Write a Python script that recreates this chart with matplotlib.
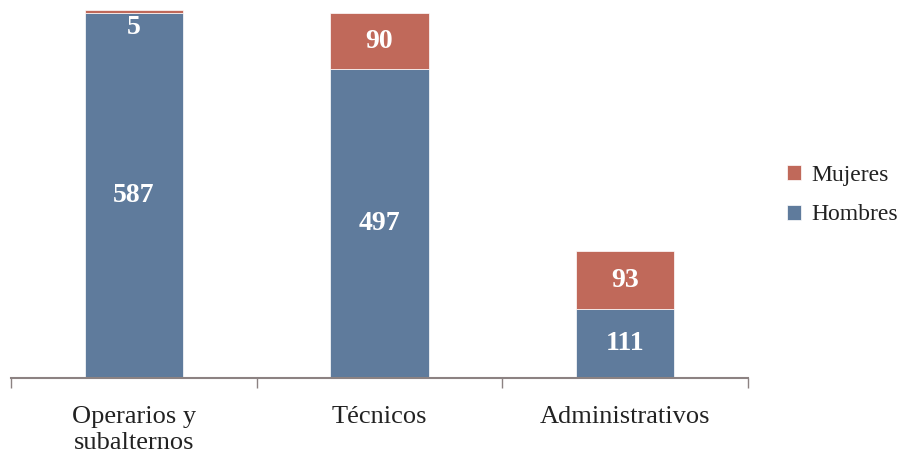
import matplotlib.pyplot as plt
import numpy as np

plt.rcParams['font.family'] = ['Liberation Serif', 'DejaVu Serif']

categorias = ["Operarios y\nsubalternos", "Técnicos", "Administrativos"]
hombres = [587, 497, 111]
mujeres = [5, 90, 93]

col_h = '#5F7B9C'
col_m = '#C0695A'

fig = plt.figure(figsize=(9.02, 4.54), dpi=100)
ax = fig.add_axes([11 / 902, 76 / 454, 737 / 902, 378 / 454])

x = np.arange(len(categorias))
w = 0.4
b1 = ax.bar(x, hombres, width=w, color=col_h, label="Hombres", edgecolor='white', linewidth=0.5)
b2 = ax.bar(x, mujeres, width=w, bottom=hombres, color=col_m, label="Mujeres", edgecolor='white', linewidth=0.5)

for i in range(len(x)):
    ax.text(x[i], hombres[i] / 2, str(hombres[i]), ha='center', va='center',
            color='white', fontsize=20, fontweight='bold')
    if mujeres[i] > 20:
        ym = hombres[i] + mujeres[i] / 2
        ax.text(x[i], ym, str(mujeres[i]), ha='center', va='center',
                color='white', fontsize=20, fontweight='bold')
    else:
        ax.text(x[i], hombres[i] - 3, str(mujeres[i]), ha='center', va='top',
                color='white', fontsize=20, fontweight='bold')

ax.set_xlim(-0.5, 2.5)
ax.set_ylim(0, 608)
for s in ['top', 'right', 'left']:
    ax.spines[s].set_visible(False)
ax.spines['bottom'].set_color('#8C8282')
ax.spines['bottom'].set_linewidth(1.5)
ax.set_yticks([])
ax.set_xticks([-0.5, 0.5, 1.5, 2.5], minor=True)
ax.tick_params(axis='x', which='minor', length=7, color='#8C8282', width=1)
ax.tick_params(axis='x', which='major', length=0, pad=20, labelsize=19, labelcolor='#222222')
ax.set_xticks(x)
ax.set_xticklabels(categorias, linespacing=1.25)

leg = fig.legend(handles=[b2, b1], labels=["Mujeres", "Hombres"], loc='center left',
                 bbox_to_anchor=(782 / 902, 1 - 195 / 454), frameon=False, fontsize=17,
                 handlelength=0.6, handleheight=0.6, labelspacing=0.8, handletextpad=0.45,
                 borderaxespad=0, borderpad=0.2)
for t in leg.get_texts():
    t.set_color('#222222')

plt.savefig("out.png", dpi=100)
